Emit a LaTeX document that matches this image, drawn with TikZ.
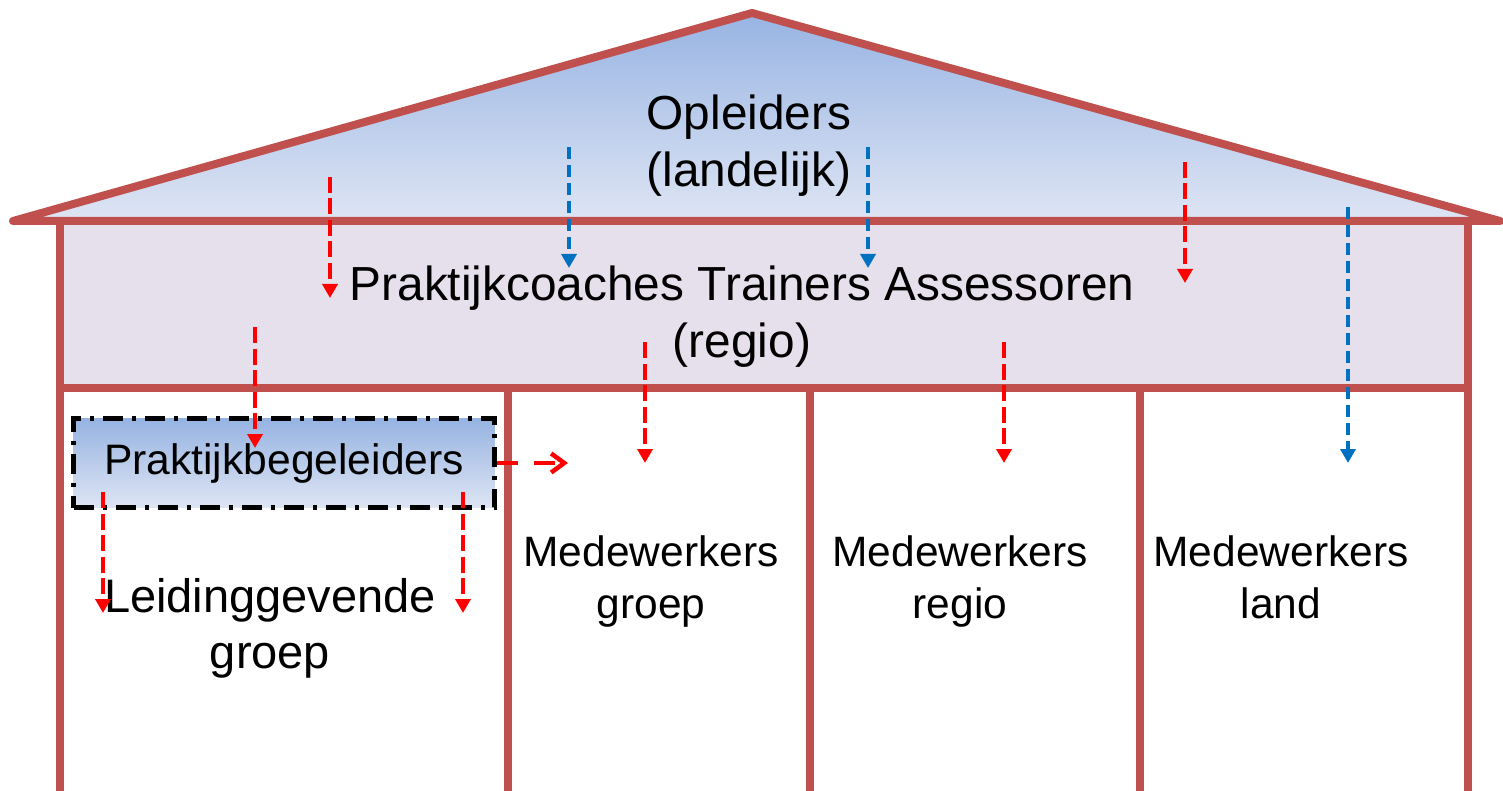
\documentclass[tikz,border=0pt]{standalone}
\usepackage{fontspec}
\setmainfont{Liberation Sans}
\usetikzlibrary{arrows.meta}
\definecolor{wallred}{RGB}{192,80,77}
\definecolor{rooftop}{RGB}{152,180,227}
\definecolor{roofbot}{RGB}{222,229,244}
\definecolor{bandfill}{RGB}{229,224,236}
\definecolor{boxtop}{RGB}{150,179,225}
\definecolor{boxbot}{RGB}{222,229,244}
\definecolor{ared}{RGB}{255,0,0}
\definecolor{ablue}{RGB}{0,112,192}
\begin{document}
\begin{tikzpicture}[x=1pt,y=-1pt,
  wallline/.style={draw=wallred,line width=8pt,line join=round,line cap=round},
  redarrow/.style={draw=ared,line width=4.5pt,dash pattern=on 16pt off 5.5pt,-{Triangle[length=14pt,width=15pt]}},
  bluearrow/.style={draw=ablue,line width=4.5pt,dash pattern=on 12pt off 6pt,-{Triangle[length=14pt,width=15pt]}},
  sidearrow/.style={draw=ared,line width=4.5pt,dash pattern=on 21pt off 16pt,-{Straight Barb[length=13pt,width=19pt]}},
  bigtext/.style={font=\fontsize{47.8}{57}\selectfont,align=center,inner sep=0pt},
  lgtext/.style={font=\fontsize{47}{56}\selectfont,align=center,inner sep=0pt},
  midtext/.style={font=\fontsize{42.5}{52}\selectfont,align=center,inner sep=0pt},
  pbbox/.style={draw=black,line width=5pt,dash pattern=on 20pt off 9pt on 4pt off 9pt,
    top color=boxtop,bottom color=boxbot,minimum width=421pt,minimum height=89pt,
    inner sep=0pt,font=\fontsize{42.6}{50}\selectfont},
]
\useasboundingbox (0,0) rectangle (1503,791);
\clip (0,0) rectangle (1503,791);
% house geometry
\coordinate (apex) at (752,13);
\coordinate (eaveL) at (13,221);
\coordinate (eaveR) at (1500,221);
\coordinate (wallLt) at (60,221);
\coordinate (wallRt) at (1468,221);
\coordinate (wallLb) at (60,800);
\coordinate (wallRb) at (1468,800);
\coordinate (floorL) at (60,388);
\coordinate (floorR) at (1468,388);
% fills
\fill[top color=rooftop,bottom color=roofbot] (eaveL) -- (apex) -- (eaveR) -- cycle;
\fill[bandfill] (wallLt) rectangle (floorR);
% outlines
\draw[wallline] (eaveL) -- (apex) -- (eaveR) -- cycle;
\draw[wallline] (wallLt) -- (wallLb);
\draw[wallline] (wallRt) -- (wallRb);
\draw[wallline] (floorL) -- (floorR);
\draw[wallline] (508,388) -- (508,800);
\draw[wallline] (810,388) -- (810,800);
\draw[wallline] (1140,388) -- (1140,800);
% texts
\node[bigtext] (opl) at (749,146) {Opleiders\\(landelijk)};
\node[bigtext] (pta) at (742,316.5) {Praktijkcoaches Trainers Assessoren\\(regio)};
\node[pbbox] (pb) at (284,463) {Praktijkbegeleiders};
\node[lgtext] (lg) at (270,628) {Leidinggevende\\groep};
\node[midtext] (mg) at (651,582) {Medewerkers\\groep};
\node[midtext] (mr) at (960,582) {Medewerkers\\regio};
\node[midtext] (ml) at (1281,577.5) {Medewerkers\\land};
% arrow end points
\coordinate (r1s) at (330,177);  \coordinate (r1e) at (330,298);
\coordinate (r2s) at (255,327);  \coordinate (r2e) at (255,448);
\coordinate (r3s) at (645,342);  \coordinate (r3e) at (645,463);
\coordinate (r4s) at (1004,342); \coordinate (r4e) at (1004,463);
\coordinate (r5s) at (1185,162); \coordinate (r5e) at (1185,283);
\coordinate (r6s) at (103,492);  \coordinate (r6e) at (103,613);
\coordinate (r7s) at (463,492);  \coordinate (r7e) at (463,613);
\coordinate (b1s) at (569,147);  \coordinate (b1e) at (569,268);
\coordinate (b2s) at (868,147);  \coordinate (b2e) at (868,268);
\coordinate (b3s) at (1348,207); \coordinate (b3e) at (1348,463);
\coordinate (side) at (568,463);
% arrows
\draw[redarrow] (r1s) -- (r1e);
\draw[redarrow] (r2s) -- (r2e);
\draw[redarrow] (r3s) -- (r3e);
\draw[redarrow] (r4s) -- (r4e);
\draw[redarrow] (r5s) -- (r5e);
\draw[redarrow] (r6s) -- (r6e);
\draw[redarrow] (r7s) -- (r7e);
\draw[bluearrow] (b1s) -- (b1e);
\draw[bluearrow] (b2s) -- (b2e);
\draw[bluearrow] (b3s) -- (b3e);
\draw[sidearrow] (pb.east) -- (side);
\end{tikzpicture}
\end{document}
